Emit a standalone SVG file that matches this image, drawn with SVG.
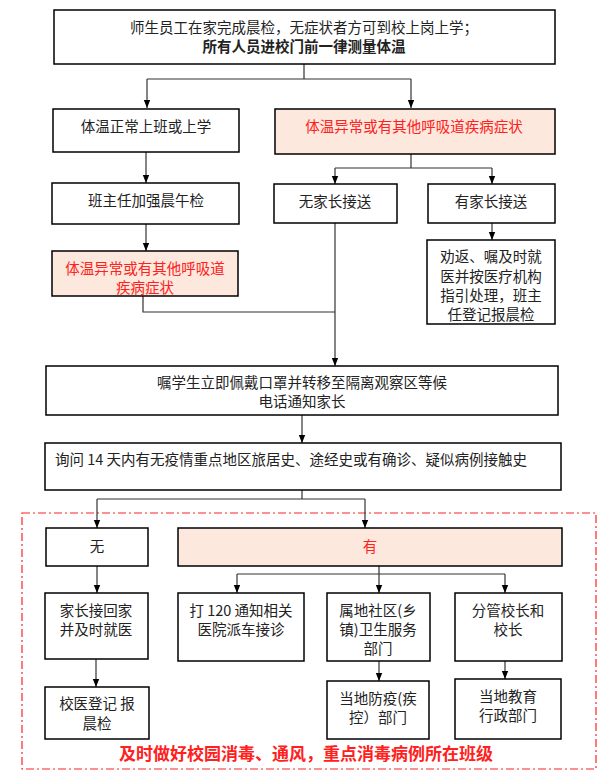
<svg xmlns="http://www.w3.org/2000/svg" width="614" height="776" viewBox="0 0 614 776">
<style>
rect{fill:#fff;stroke:#000;stroke-width:1.5}
rect.p{fill:#fce8dc}
text{font-family:"Noto Sans CJK SC","Liberation Sans",sans-serif;font-size:14.5px;fill:#222;text-anchor:middle;dominant-baseline:central}
text.r{fill:#ff2020}
#c path{fill:none;stroke:#333;stroke-width:1.2;marker-end:url(#a)}
#c path.n{marker-end:none}
</style>
<defs><marker id="a" viewBox="0 0 10 10" refX="10" refY="5" markerWidth="7" markerHeight="7" orient="auto"><path d="M0,1L10,5L0,9z" fill="#000"/></marker></defs>
<rect x="0" y="0" width="614" height="776" style="fill:#fff;stroke:none"/>
<rect x="22" y="513" width="574" height="256" style="fill:none;stroke:#f22;stroke-width:1.2;stroke-dasharray:8,3,2,3"/>
<g id="c">
<path class="n" d="M304,64V79M147,79H411"/>
<path d="M147,79V108"/><path d="M411,79V108"/>
<path d="M146,152V183"/><path d="M146,224V251"/>
<path class="n" d="M411,154V168M335,168H492"/>
<path d="M335,168V184"/><path d="M492,168V184"/>
<path d="M492,223V240"/>
<path class="n" d="M143,296V312H335"/>
<path d="M335,223V366"/>
<path d="M302,415V443"/>
<path class="n" d="M302,490V499M97,499H365"/>
<path d="M97,499V528"/><path d="M365,499V528"/>
<path d="M97,566V593"/>
<path class="n" d="M379,566V574M237,574H505"/>
<path d="M237,574V593"/><path d="M379,574V593"/><path d="M505,574V593"/>
<path d="M96,659V687"/>
<path d="M379,661V681"/><path d="M505,661V679"/>
</g>
<g id="top"><rect x="54" y="10" width="501" height="54"/><text x="304" y="26">师生员工在家完成晨检，无症状者方可到校上岗上学；</text><text x="304" y="45" font-weight="bold">所有人员进校门前一律测量体温</text></g>
<g id="a1"><rect x="53" y="109" width="186" height="43"/><text x="146" y="125">体温正常上班或上学</text></g>
<g id="b1"><rect class="p" x="275" y="109" width="280" height="45"/><text class="r" x="414" y="125">体温异常或有其他呼吸道疾病症状</text></g>
<g id="c1"><rect x="52" y="183" width="187" height="41"/><text x="146" y="199">班主任加强晨午检</text></g>
<g id="d1"><rect x="274" y="184" width="123" height="39"/><text x="335" y="200">无家长接送</text></g>
<g id="e1"><rect x="428" y="184" width="127" height="39"/><text x="491" y="200">有家长接送</text></g>
<g id="f1"><rect class="p" x="52" y="251" width="186" height="45"/><text class="r" x="145" y="267">体温异常或有其他呼吸道</text><text class="r" x="145" y="286">疾病症状</text></g>
<g id="g1"><rect x="427" y="240" width="128" height="84"/><text x="491" y="255">劝返、嘱及时就</text><text x="491" y="275">医并按医疗机构</text><text x="491" y="294">指引处理，班主</text><text x="491" y="313">任登记报晨检</text></g>
<g id="h1"><rect x="46" y="366" width="512" height="49"/><text x="302" y="381">嘱学生立即佩戴口罩并转移至隔离观察区等候</text><text x="302" y="400">电话通知家长</text></g>
<g id="i1"><rect x="45" y="443" width="516" height="47"/><text x="55" y="458" style="text-anchor:start">询问 14 天内有无疫情重点地区旅居史、途经史或有确诊、疑似病例接触史</text></g>
<g id="wu"><rect x="46" y="528" width="102" height="38"/><text x="97" y="545">无</text></g>
<g id="you"><rect class="p" x="178" y="528" width="384" height="38"/><text class="r" x="370" y="545">有</text></g>
<g id="j1"><rect x="45" y="593" width="103" height="66"/><text x="96" y="609">家长接回家</text><text x="96" y="628">并及时就医</text></g>
<g id="k1"><rect x="178" y="593" width="126" height="68"/><text x="241" y="609">打 120 通知相关</text><text x="241" y="628">医院派车接诊</text></g>
<g id="l1"><rect x="327" y="593" width="103" height="68"/><text x="378" y="609">属地社区(乡</text><text x="378" y="628">镇)卫生服务</text><text x="378" y="647">部门</text></g>
<g id="m1"><rect x="455" y="593" width="107" height="68"/><text x="508" y="609">分管校长和</text><text x="508" y="628">校长</text></g>
<g id="n1"><rect x="45" y="687" width="104" height="52"/><text x="97" y="702">校医登记  报</text><text x="97" y="722">晨检</text></g>
<g id="o1"><rect x="327" y="681" width="102" height="58"/><text x="378" y="697">当地防疫(疾</text><text x="378" y="716">控）部门</text></g>
<g id="p1"><rect x="455" y="679" width="106" height="60"/><text x="508" y="695">当地教育</text><text x="508" y="714">行政部门</text></g>
<text class="r" x="306" y="752" style="font-size:17px;font-weight:bold">及时做好校园消毒、通风，重点消毒病例所在班级</text>
</svg>
